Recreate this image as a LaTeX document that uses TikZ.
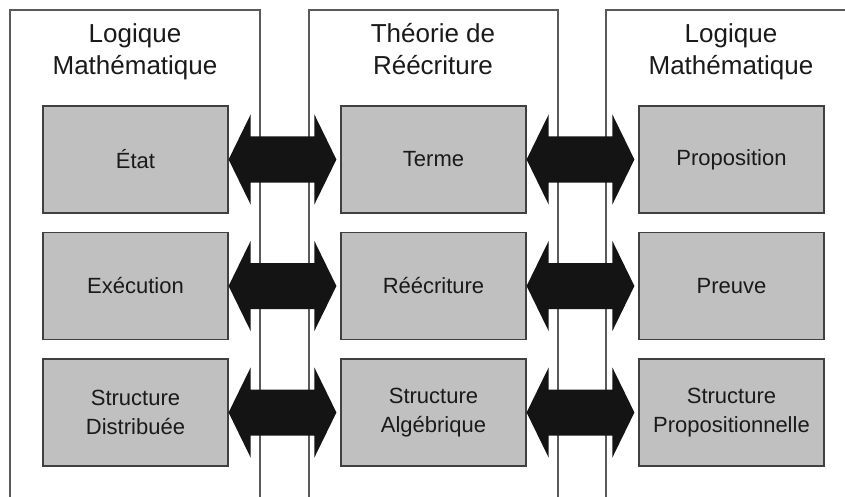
\documentclass[tikz,border=0pt]{standalone}
\usepackage{fontspec}
\setmainfont{Liberation Sans}
\usetikzlibrary{calc}
\definecolor{colline}{HTML}{5A5A5A}
\definecolor{boxfill}{HTML}{C0C0C0}
\definecolor{boxedge}{HTML}{404040}
\definecolor{arrowfill}{HTML}{141414}
\definecolor{inktext}{HTML}{1A1A1A}

% Block double arrow from the east side of #1 to just before the west side of #2
\newcommand{\biarrow}[2]{%
  \fill[blockarrow] (#1.east) -- ++(22,-45) -- ++(0,22)
    -- ($(#2.west)+(-26,-23)$) -- ++(0,-22)
    -- ($(#2.west)+(-4,0)$) -- ++(-22,45) -- ++(0,-22)
    -- ($(#1.east)+(22,23)$) -- ++(0,22) -- cycle;}

\begin{document}
\begin{tikzpicture}[x=1pt,y=-1pt,
  column/.style={draw=colline,line width=1.6pt},
  concept/.style={draw=boxedge,line width=1.2pt,fill=boxfill,
    minimum width=185pt,minimum height=107pt,inner sep=0pt,align=center,
    font=\fontsize{22}{29}\selectfont,text=inktext},
  heading/.style={align=center,font=\fontsize{26}{32}\selectfont,text=inktext},
  blockarrow/.style={fill=arrowfill}]

\useasboundingbox (0,0) rectangle (845,497);
\fill[white] (0,0) rectangle (845,497);

% three open columns
\draw[column] (10,497) -- (10,10) -- (260,10) -- (260,497);
\draw[column] (309,497) -- (309,10) -- (558,10) -- (558,497);
\draw[column] (606,497) -- (606,10) -- (845,10);

% column headings
\node[heading] (tL) at (135,52) {Logique\\Mathématique};
\node[heading] (tM) at (433,49) {Théorie de\\Réécriture};
\node[heading] (tR) at (731,52) {Logique\\Mathématique};

% concept boxes
\node[concept] (etat)  at (135.5,159.5) {État};
\node[concept] (terme) at (433.5,159.5) {Terme};
\node[concept] (prop)  at (731.5,159.5) {Proposition};

\node[concept] (exec)   at (135.5,286) {Exécution};
\node[concept] (reecr)  at (433.5,286) {Réécriture};
\node[concept] (preuve) at (731.5,286) {Preuve};

\node[concept] (sdist) at (135.5,412.5) {Structure\\Distribuée};
\node[concept] (salg)  at (433.5,412.5) {Structure\\Algébrique};
\node[concept] (sprop) at (731.5,412.5) {Structure\\Propositionnelle};

% correspondences
\biarrow{etat}{terme}
\biarrow{terme}{prop}
\biarrow{exec}{reecr}
\biarrow{reecr}{preuve}
\biarrow{sdist}{salg}
\biarrow{salg}{sprop}

\end{tikzpicture}
\end{document}
